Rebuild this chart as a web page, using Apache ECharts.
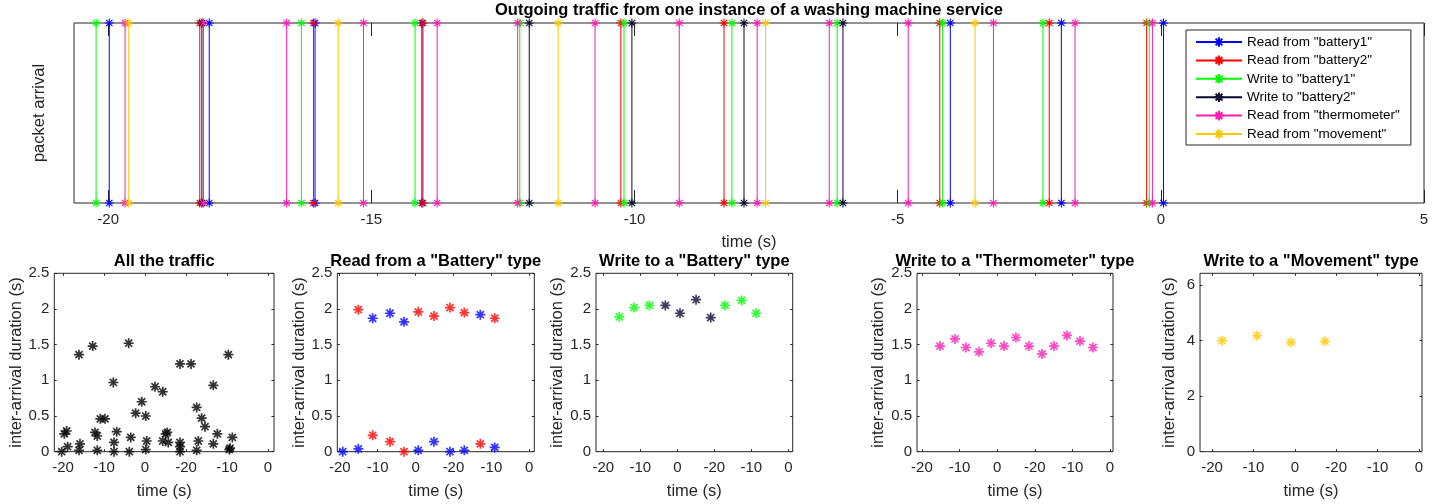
<!DOCTYPE html>
<html><head><meta charset="utf-8">
<script src="https://cdn.jsdelivr.net/npm/echarts@6/dist/echarts.min.js"></script>
<style>html,body{margin:0;padding:0;background:#fff}#c{width:1443px;height:504px}</style>
</head><body><div id="c"></div>
<script>
// ---------- data (time in s) ----------
const seriesNames = ['Read from "battery1"', 'Read from "battery2"', 'Write to "battery1"', 'Write to "battery2"', 'Read from "thermometer"', 'Read from "movement"'];
const seriesColors = ['#0000ff', '#ff0000', '#00ff00', '#0a0a32', '#ff1cb4', '#ffc800'];
const readBattery1 = [-19.98, -18.08, -16.07, -14.04, -4.00, -1.89, 0.05];
const readBattery2 = [-18.26, -16.10, -14.02, -10.26, -8.30, -4.20, -2.12, -0.27];
const writeBattery1 = [-20.23, -16.33, -14.17, -12.18, -10.20, -8.15, -6.15, -4.15, -2.24, -0.22];
const writeBattery2 = [-18.22, -12.00, -10.05, -7.92, -6.04];
const readThermometer = [-19.68, -18.19, -16.61, -15.15, -13.75, -12.22, -10.75, -9.15, -7.67, -6.30, -4.80, -3.18, -1.63, -0.16];
const readMovement = [-19.61, -15.63, -11.45, -7.51, -3.53];
const topTicks = [-20, -15, -10, -5, 0, 5];

const bottomTicks = [-20, -15, -10, -5, 0, 5];
const bottomTickLabels = ['-20', '-10', '0', '-20', '-10', '0'];
const subTitles = ['All the traffic', 'Read from a "Battery" type', 'Write to a "Battery" type', 'Write to a "Thermometer" type', 'Write to a "Movement" type'];

// [time, inter-arrival duration]
const allTraffic = [
  [-20.16, 0.00], [-19.84, 0.25], [-19.55, 0.29], [-19.43, 0.07], [-18.05, 1.36], [-17.93, 0.11], [-18.05, 0.02],
  [-16.38, 1.48], [-16.10, 0.27], [-15.82, 0.22], [-15.82, 0.02], [-15.45, 0.46], [-14.88, 0.46],
  [-13.86, 0.97], [-13.78, 0.13], [-13.78, 0.00], [-13.45, 0.28], [-11.99, 1.52], [-11.74, 0.20], [-11.91, 0.00],
  [-11.14, 0.54], [-10.40, 0.70], [-9.91, 0.50], [-9.79, 0.15], [-9.91, 0.03], [-8.78, 0.91], [-7.84, 0.84],
  [-7.48, 0.25], [-7.28, 0.27], [-7.84, 0.15], [-7.16, 0.13], [-5.73, 1.23], [-5.73, 0.13], [-5.73, 0.07], [-5.73, 0.00],
  [-4.39, 1.23], [-3.70, 0.62], [-3.09, 0.47], [-2.68, 0.35], [-3.50, 0.15], [-3.70, 0.02],
  [-1.67, 0.93], [-1.18, 0.25], [-1.67, 0.11], [0.16, 1.36], [0.65, 0.20], [0.37, 0.05], [0.28, 0.03]
];
const readB1Gap = [[-19.60, 0.00], [-17.55, 0.04], [-15.65, 1.87], [-13.37, 1.94], [-11.52, 1.82], [-9.64, 0.02], [-7.57, 0.14], [-5.46, 0.00], [-3.57, 0.02], [-1.46, 1.92], [0.44, 0.06]];
const readB2Gap = [[-17.55, 1.99], [-15.65, 0.23], [-13.37, 0.14], [-11.52, 0.00], [-9.64, 1.96], [-7.57, 1.90], [-5.46, 2.02], [-3.57, 1.95], [-1.46, 0.11], [0.44, 1.87]];
const writeB1Gap = [[-17.84, 1.89], [-15.85, 2.02], [-13.78, 2.05], [-3.55, 2.05], [-1.30, 2.12], [0.64, 1.94]];
const writeB2Gap = [[-11.62, 2.05], [-9.64, 1.94], [-7.47, 2.13], [-5.49, 1.88]];
const thermoGap = [[-17.61, 1.48], [-15.61, 1.58], [-14.15, 1.46], [-12.42, 1.40], [-10.82, 1.52], [-9.10, 1.48], [-7.50, 1.60], [-5.77, 1.48], [-4.04, 1.37], [-2.45, 1.48], [-0.72, 1.63], [1.01, 1.55], [2.74, 1.46]];
const movementGap = [[-18.79, 4.00], [-14.57, 4.18], [-10.46, 3.94], [-6.35, 3.98]];

// ---------- layout ----------
const FONT = '"Liberation Sans", Arial, Helvetica, sans-serif';
const AX = '#262626';
const STAR = 'path://M5,0L5,10M0,5L10,5M1.46,1.46L8.54,8.54M1.46,8.54L8.54,1.46';

const grids = [
  {left: 74, top: 23, width: 1350, height: 180},
  {left: 54.3, top: 273.3, width: 219.7, height: 178.4},
  {left: 337.3, top: 273.3, width: 197, height: 178.4},
  {left: 596, top: 273.3, width: 196.7, height: 178.4},
  {left: 917, top: 273.3, width: 196, height: 178.4},
  {left: 1200, top: 273.3, width: 222, height: 178.4}
];
const xRanges = [[-20.65, 5], [-21.06, 5.73], [-20.32, 5.66], [-20.99, 5.59], [-20.66, 5.40], [-21.45, 5.36]];
const yRanges = [[0, 1], [0, 2.5], [0, 2.5], [0, 2.5], [0, 2.5], [0, 6.43]];

const xAxis = [], yAxis = [];
const noLine = {show: false, onZero: false};
grids.forEach((g, i) => {
  const isTop = i === 0;
  const ticks = isTop ? topTicks : bottomTicks;
  const tl = isTop ? 13 : 2.5;
  xAxis.push({
    type: 'value', gridIndex: i, min: xRanges[i][0], max: xRanges[i][1],
    axisLine: noLine, splitLine: {show: false},
    axisTick: {inside: true, length: tl, customValues: ticks, lineStyle: {color: AX}},
    axisLabel: {customValues: ticks, margin: 9, color: AX, fontFamily: FONT, fontSize: 15,
      formatter: v => isTop ? String(v) : bottomTickLabels[ticks.indexOf(v)]},
    name: 'time (s)', nameLocation: 'middle', nameGap: 31,
    nameTextStyle: {color: AX, fontFamily: FONT, fontSize: 16.5}
  });
  xAxis.push({
    type: 'value', gridIndex: i, position: 'top', min: xRanges[i][0], max: xRanges[i][1],
    axisLine: noLine, splitLine: {show: false}, axisLabel: {show: false},
    axisTick: {inside: true, length: tl, customValues: ticks, lineStyle: {color: AX}}
  });
  const yt = isTop ? [] : (i === 5 ? [0, 2, 4, 6] : [0, 0.5, 1, 1.5, 2, 2.5]);
  yAxis.push({
    type: 'value', gridIndex: i, min: yRanges[i][0], max: yRanges[i][1],
    axisLine: noLine, splitLine: {show: false},
    axisTick: {show: !isTop, inside: true, length: 2.5, customValues: yt, lineStyle: {color: AX}},
    axisLabel: {show: !isTop, customValues: yt, margin: 5, color: AX, fontFamily: FONT, fontSize: 15},
    name: isTop ? 'packet arrival' : 'inter-arrival duration (s)', nameLocation: 'middle',
    nameGap: isTop ? 26 : (i === 5 ? 22 : 29), nameRotate: 90,
    nameTextStyle: {color: AX, fontFamily: FONT, fontSize: 16.5}
  });
  yAxis.push({
    type: 'value', gridIndex: i, position: 'right', min: yRanges[i][0], max: yRanges[i][1],
    axisLine: noLine, splitLine: {show: false}, axisLabel: {show: false},
    axisTick: {show: !isTop, inside: true, length: 2.5, customValues: yt, lineStyle: {color: AX}}
  });
});

function stems(times) {
  const d = [];
  times.forEach(t => { d.push([t, 0], [t, 1], [t, '-']); });
  return d;
}
const topData = [readBattery1, readBattery2, writeBattery1, writeBattery2, readThermometer, readMovement];
const series = topData.map((times, k) => ({
  type: 'line', name: seriesNames[k], xAxisIndex: 0, yAxisIndex: 0, data: stems(times),
  symbol: STAR, symbolSize: 9, showAllSymbol: true, connectNulls: false, clip: false,
  lineStyle: {color: seriesColors[k], width: 1},
  itemStyle: {color: seriesColors[k], borderColor: seriesColors[k], borderWidth: 1.1},
  emphasis: {disabled: true}
}));
function scat(data, grid, color) {
  return {type: 'scatter', xAxisIndex: grid * 2, yAxisIndex: grid * 2, data: data,
    symbol: STAR, symbolSize: 10, clip: false,
    itemStyle: {color: color, borderColor: color, borderWidth: 1.7}, emphasis: {disabled: true}};
}
series.push(scat(allTraffic, 1, '#000000'));
series.push(scat(readB1Gap, 2, seriesColors[0]));
series.push(scat(readB2Gap, 2, seriesColors[1]));
series.push(scat(writeB1Gap, 3, seriesColors[2]));
series.push(scat(writeB2Gap, 3, seriesColors[3]));
series.push(scat(thermoGap, 4, seriesColors[4]));
series.push(scat(movementGap, 5, seriesColors[5]));

const titles = [{text: 'Outgoing traffic from one instance of a washing machine service', left: 749, top: 2}];
subTitles.forEach((t, i) => {
  const g = grids[i + 1];
  titles.push({text: t, left: g.left + g.width / 2, top: 253});
});
titles.forEach(t => {
  t.textAlign = 'center'; t.padding = 0;
  t.textStyle = {fontFamily: FONT, fontSize: 16.5, fontWeight: 'bold', color: '#000'};
});

const option = {
  animation: false,
  backgroundColor: '#fff',
  title: titles,
  grid: grids.map(g => Object.assign({show: true, borderColor: AX, borderWidth: 1, backgroundColor: '#fff', containLabel: false}, g)),
  xAxis: xAxis, yAxis: yAxis,
  legend: {
    data: seriesNames, orient: 'vertical', left: 1186, top: 30,
    padding: [5, 11, 4, 9], itemGap: 4.4, itemWidth: 46, itemHeight: 12,
    backgroundColor: '#fff', borderColor: AX, borderWidth: 1,
    textStyle: {color: '#000', fontFamily: FONT, fontSize: 13.5}
  },
  series: series
};
echarts.init(document.getElementById('c')).setOption(option);
</script></body></html>
